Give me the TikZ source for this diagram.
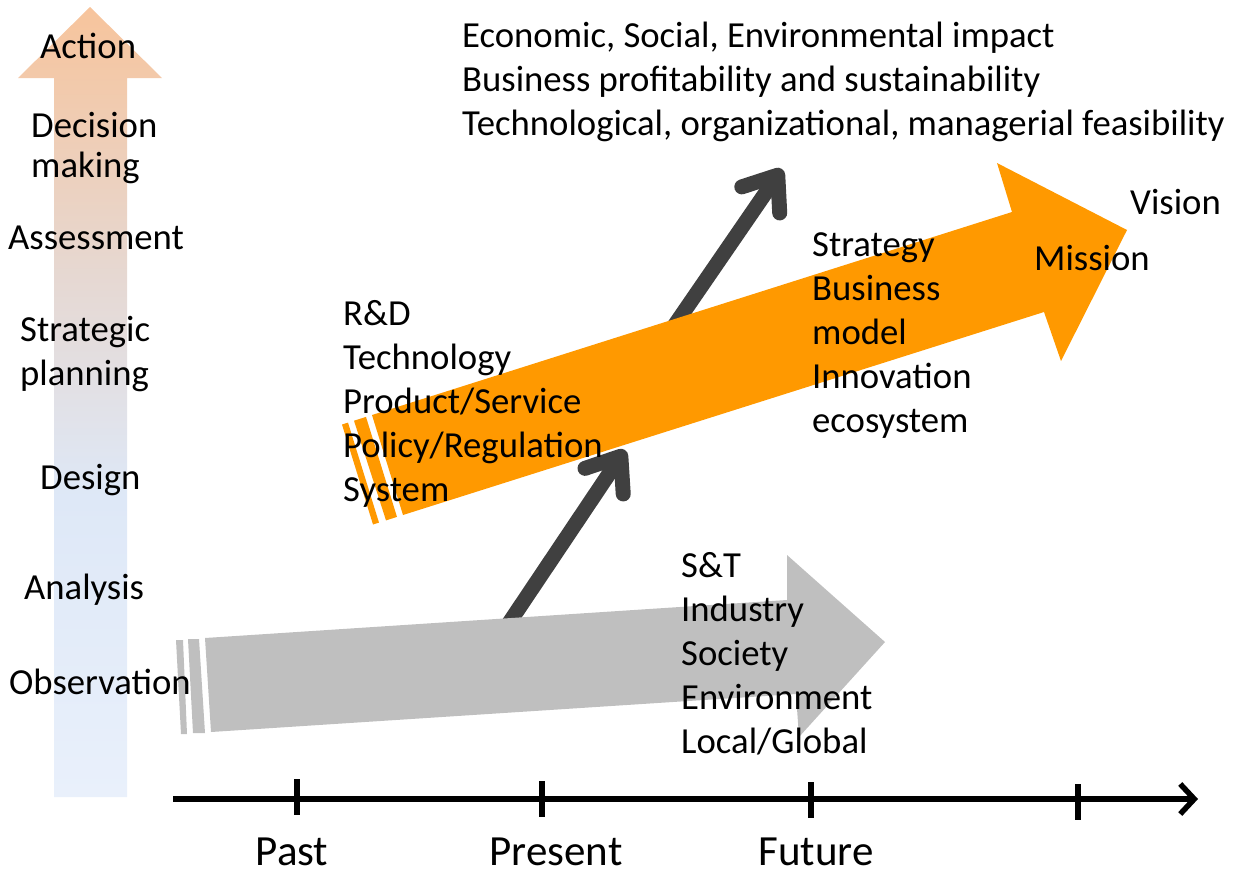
\documentclass[tikz,border=0pt]{standalone}
\usepackage{fontspec}
\setmainfont{Carlito}
\usetikzlibrary{arrows.meta}
\definecolor{orng}{RGB}{255,153,0}
\definecolor{lgray}{RGB}{191,191,191}
\definecolor{dgray}{RGB}{64,64,64}
\definecolor{peach}{RGB}{247,196,156}
\definecolor{midc}{RGB}{230,216,210}
\definecolor{lblue}{RGB}{222,232,247}
\definecolor{paleblue}{RGB}{233,240,251}
\pgfdeclareverticalshading{leftgrad}{100bp}{color(0bp)=(paleblue); color(25bp)=(paleblue); color(44bp)=(lblue); color(58bp)=(midc); color(75bp)=(peach); color(100bp)=(peach)}
\newcommand\mlines[2][44pt]{\vtop{\baselineskip=#1\lineskiplimit=-100pt\halign{##\hfil\cr#2\crcr}}}
\begin{document}
\begin{tikzpicture}[x=1pt,y=-1pt,
  txt/.style={inner sep=0pt, anchor=base west, font=\fontsize{36.7}{44}\selectfont},
  axlbl/.style={inner sep=0pt, anchor=base, font=\fontsize{43}{50}\selectfont},
  flow/.style={draw=dgray, line width=15pt, -{Straight Barb[length=30pt,width=46pt,round]}},
  axisline/.style={draw=black, line width=5.5pt, -{Straight Barb[length=14pt,width=30pt]}},
  tick/.style={draw=black, line width=5.5pt}]
\useasboundingbox (0,0) rectangle (1237,876);
% vertical gradient arrow
\shade[shading=leftgrad]
  (54,797) -- (54,78) -- (18,78) -- (90,7) -- (162,78) -- (127,78) -- (127,797) -- cycle;
% dark flow arrows (behind the big arrows)
\coordinate (f1s) at (507,626);
\coordinate (f1e) at (625,450);
\coordinate (f2s) at (672,329);
\coordinate (f2e) at (782,169);
\draw[flow] (f1s) -- (f1e);
\draw[flow] (f2s) -- (f2e);
% gray arrow
\fill[lgray] (205,638) -- (787,600) -- (787,555) -- (885,642) -- (799,737) -- (796,694) -- (211,732) -- cycle;
\fill[lgray] (176,640) -- (183,640) -- (187,734) -- (181,734) -- cycle;
\fill[lgray] (188,639) -- (199,639) -- (205,733) -- (193,733) -- cycle;
% orange arrow
\fill[orng] (372,415) -- (1012,212) -- (997,163) -- (1127,230) -- (1061,361) -- (1044,312) -- (403,515) -- cycle;
\fill[orng] (342,424.5) -- (348,422.6) -- (379,522.6) -- (373,524.5) -- cycle;
\fill[orng] (354,420.7) -- (366,416.9) -- (397,516.9) -- (386,520.4) -- cycle;
% time axis
\coordinate (axs) at (173,799);
\coordinate (axe) at (1198,799);
\draw[axisline] (axs) -- (axe);
\draw[tick] (297,779) -- (297,815);
\draw[tick] (542,781) -- (542,817);
\draw[tick] (811,782) -- (811,818);
\draw[tick] (1078,784) -- (1078,820);
\node[axlbl] (past) at (292,865) {Past};
\node[axlbl] (present) at (556,865) {Present};
\node[axlbl] (future) at (816,865) {Future};
% left column labels
\node[txt] (action) at (40,58) {Action};
\node[txt] (decision) at (31,137) {\mlines[40pt]{Decision\cr making}};
\node[txt] (assess) at (8,249) {Assessment};
\node[txt] (strat) at (20,341) {\mlines{Strategic\cr planning}};
\node[txt] (design) at (40,489) {Design};
\node[txt] (analysis) at (24,599) {Analysis};
\node[txt] (observ) at (9,694) {Observation};
% texts
\node[txt] (impact) at (462,47) {\mlines{Economic, Social, Environmental impact\cr Business profitability and sustainability\cr Technological, organizational, managerial feasibility}};
\node[txt] (rd) at (343,325) {\mlines{R\&D\cr Technology\cr Product/Service\cr Policy/Regulation\cr System}};
\node[txt] (strategy) at (812,256) {\mlines{Strategy\cr Business\cr model\cr Innovation\cr ecosystem}};
\node[txt] (vision) at (1130,214) {Vision};
\node[txt] (mission) at (1034,270) {Mission};
\node[txt] (st) at (681,577) {\mlines{S\&T\cr Industry\cr Society\cr Environment\cr Local/Global}};
\end{tikzpicture}
\end{document}
